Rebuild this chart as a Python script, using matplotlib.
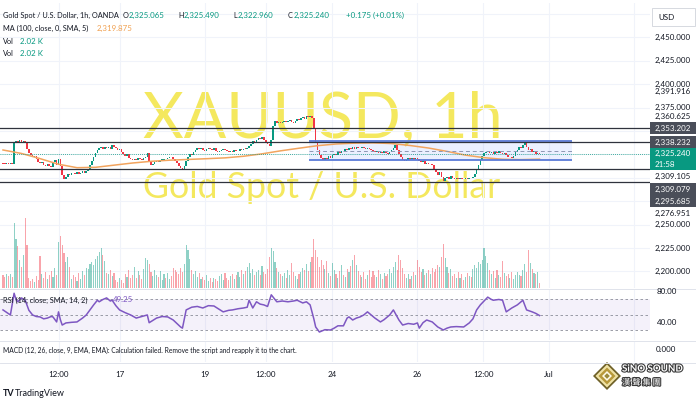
import matplotlib.pyplot as plt
import matplotlib.patheffects as pe
from matplotlib.patches import Rectangle, Polygon
from matplotlib.transforms import blended_transform_factory
import numpy as np

plt.rcParams['font.family'] = ['Lato', 'DejaVu Sans']

# hourly closes (XAUUSD 1h, OANDA)
closes = [
    2315.2, 2314.6, 2315.8, 2314.9, 2315.4, 2314.8,
    2337.5,
    2339.2, 2336.8, 2340.1, 2338.5, 2339.6, 2337.9,
    2331.0, 2326.4, 2324.8, 2322.1, 2323.5, 2319.6,
    2317.2, 2315.5, 2316.8, 2313.9, 2312.4, 2314.6, 2313.1, 2311.8,
    2316.5, 2318.9, 2314.2, 2319.8, 2312.3,
    2303.5, 2298.4, 2301.2,
    2304.1, 2303.2, 2305.3, 2304.6, 2303.8, 2305.9, 2304.4, 2305.1, 2306.8, 2305.5, 2307.2,
    2309.8, 2313.5, 2318.2, 2322.6, 2326.3, 2329.8, 2331.4,
    2332.6, 2330.5, 2333.2, 2331.7, 2332.9, 2330.8, 2334.6,
    2333.1, 2331.5, 2329.2, 2330.4, 2327.1, 2325.3, 2323.8, 2324.9, 2321.6, 2319.8, 2318.5,
    2320.6, 2319.4, 2321.3, 2320.1, 2319.0, 2320.8, 2321.7, 2326.0,
    2316.8, 2313.9, 2315.2,
    2316.6, 2317.9, 2317.2, 2318.8, 2319.5, 2320.3, 2319.6, 2321.2, 2322.5, 2321.8,
    2320.4, 2317.9, 2315.3, 2312.6, 2310.4, 2308.6,
    2312.8, 2317.5, 2321.9, 2325.6, 2324.3, 2327.9, 2330.2, 2331.5,
    2330.6, 2331.8, 2330.2, 2329.1, 2330.5, 2331.9, 2330.7, 2330.1, 2331.3, 2328.6, 2327.4, 2328.9, 2329.5, 2330.4,
    2329.3, 2328.1, 2327.2, 2328.6, 2327.9, 2329.4, 2328.3, 2329.0, 2330.6, 2329.8, 2331.2, 2330.5, 2332.1,
    2333.8, 2336.2, 2338.9, 2337.4, 2340.6, 2342.8, 2341.5, 2343.6, 2340.2, 2337.5, 2336.1,
    2334.2,
    2340.5, 2355.6, 2360.3,
    2358.9, 2359.6, 2358.2, 2359.8, 2360.5, 2359.1, 2360.7, 2361.5, 2359.8, 2358.6, 2361.2, 2362.4, 2361.8,
    2363.5, 2364.8, 2363.2, 2365.9, 2364.6, 2366.3, 2363.8,
    2352.4, 2337.6,
    2329.5, 2324.8, 2321.1, 2319.3,
    2321.5, 2320.4, 2322.8, 2321.0, 2323.9,
    2325.8, 2324.6, 2327.9, 2326.5, 2329.1, 2328.2, 2330.4, 2329.6,
    2331.6, 2330.8, 2332.5, 2331.2, 2333.4, 2332.1, 2331.5, 2333.0, 2332.3, 2330.9, 2331.8, 2330.5,
    2329.4, 2328.1, 2327.3, 2328.6, 2326.9, 2327.8, 2326.2, 2328.4, 2327.0, 2325.9, 2327.5, 2329.2, 2331.8,
    2335.0,
    2330.2, 2325.8, 2322.1, 2319.4, 2318.0, 2319.5,
    2320.7, 2319.6, 2321.2, 2320.3, 2321.5, 2320.0, 2318.4,
    2316.6, 2317.5, 2315.2, 2316.1, 2314.3, 2315.0, 2313.6,
    2309.2, 2306.5, 2303.1, 2306.4, 2300.8, 2296.3,
    2299.5, 2300.8, 2299.2, 2301.4, 2300.1, 2298.6, 2299.8, 2298.9, 2300.3, 2299.1, 2298.4, 2299.6, 2298.8, 2300.2, 2299.4, 2300.9,
    2304.5, 2309.6, 2314.2, 2318.5, 2322.8, 2326.1, 2327.6, 2328.9,
    2326.8, 2327.9, 2325.6, 2327.2, 2326.4, 2328.1, 2327.0, 2325.8, 2326.9, 2324.5,
    2321.8, 2322.6, 2320.9, 2323.4,
    2327.2, 2330.1, 2332.6, 2331.4, 2334.8, 2337.0,
    2333.2, 2329.5, 2331.0, 2327.4, 2328.6, 2325.8, 2326.9, 2325.24,
]
first_open = 2315.6

# volume in thousands
volumes = [
    5.2, 4.6, 5.8, 4.9, 5.5, 4.3,
    26.0, 19.5, 16.8, 11.2, 8.6, 13.4, 28.0, 17.2,
    4.1, 2.8, 3.6, 2.4, 4.8, 3.2,
    12.8, 5.6, 4.2, 6.4, 3.8, 5.2,
    6.8, 4.6, 7.9, 5.4,
    18.6, 20.8, 17.4,
    14.2, 10.5, 12.6, 8.4,
    3.6, 5.2, 4.4, 2.9, 6.1, 3.8,
    6.8, 5.4, 8.2, 7.6, 9.8, 10.4,
    9.2, 11.6, 12.8,
    14.6, 16.2, 13.4, 10.8,
    6.2, 5.6, 7.4, 4.8, 5.9,
    3.2, 2.6, 4.1, 3.4, 2.2, 5.8, 4.6, 7.2, 3.9,
    5.4, 8.6, 4.2, 6.8, 5.1, 3.7,
    7.6, 12.2, 11.4,
    9.6, 6.3, 4.8, 7.1, 5.2, 4.4, 6.7,
    3.4, 5.8, 4.1, 6.2, 3.6, 4.9,
    8.2, 7.4, 6.6, 5.8, 7.9, 6.4,
    9.8, 17.2, 15.4, 11.6,
    7.2, 5.6, 6.8, 4.3, 5.9, 3.8,
    4.6, 3.2, 5.4, 2.8, 3.9, 2.4, 4.2, 3.5, 2.9, 4.8,
    5.6, 3.4, 6.2, 4.1, 3.3, 4.7, 5.5, 3.6,
    5.2, 6.4, 4.6, 7.1, 5.8, 6.9, 8.4, 10.2,
    6.2, 7.8, 5.4, 6.6, 7.3, 5.1, 8.8, 6.4, 5.7, 7.6,
    12.4, 16.2, 14.8,
    10.6, 8.2, 6.4, 5.6, 4.8, 6.2,
    4.1, 7.4, 5.2, 10.2, 6.6, 4.9, 3.6, 5.8,
    6.4, 8.2, 7.1, 9.6, 6.8, 10.4, 12.6,
    19.6, 15.2,
    12.4, 8.6, 11.2, 9.4, 7.6, 10.8,
    6.2, 4.8, 10.0, 7.4,
    5.6, 4.2, 6.8, 9.2, 5.4, 4.6,
    7.6, 6.4, 8.8, 11.2, 13.2, 9.4, 6.8,
    5.2, 4.4, 6.6, 3.8, 5.4, 7.2, 4.6,
    6.8, 5.2, 4.6, 7.4, 5.8, 3.6, 6.2, 4.8,
    5.6, 7.8, 6.2, 8.6, 10.4, 7.2,
    13.2, 11.4, 8.2, 5.6,
    4.2, 5.8, 3.6, 4.8, 6.4, 5.2,
    11.2, 8.4, 6.6, 7.8, 5.4, 6.2,
    7.4, 5.8, 8.2, 6.6, 7.8, 9.4, 8.6,
    12.4, 17.6, 12.0,
    8.4, 6.2, 7.6, 4.8, 5.6, 3.9, 6.4,
    4.2, 5.8, 3.4, 4.6, 6.2, 5.0, 4.4,
    7.6, 9.4, 8.2, 10.6, 9.8,
    11.4, 16.0, 12.8, 10.2, 7.4,
    5.6, 6.8, 4.2, 7.2, 5.4, 4.6,
    10.8, 6.2, 4.8,
    5.6, 4.2, 6.4, 3.8, 5.2, 6.6, 5.4,
    4.8, 7.2, 9.6, 6.4,
    15.2, 10.0, 7.6, 6.2,
    5.8, 6.6, 2.02,
]

# MA(100) read every 10 bars
ma_bars = [0, 10, 20, 30, 40, 50, 60, 70, 80, 90, 100, 110, 120, 130, 140,
           150, 160, 170, 180, 190, 200, 210, 220, 230, 240, 250, 260, 270, 280, 290]
ma_vals = [2329.7, 2326.0, 2320.5, 2314.5, 2310.8, 2311.2, 2313.5, 2315.8, 2317.6, 2318.8,
           2319.6, 2320.4, 2321.3, 2323.0, 2325.6, 2328.8, 2331.6, 2334.3, 2336.1, 2337.0,
           2337.3, 2336.6, 2334.5, 2331.8, 2328.2, 2324.2, 2321.5, 2319.8, 2319.4, 2319.875]

# RSI(14)
rsi_points = [
    (0, 56.5), (4, 50), (6, 78), (7, 70), (8, 67), (10, 72), (12, 69), (14, 56), (16, 50),
    (18, 48), (20, 47.5), (22, 45), (24, 46), (26, 48), (27, 47.5), (29, 41), (30, 54),
    (31, 44), (32, 37), (34, 39.7), (37, 40.5), (40, 41), (43, 46), (45, 50), (47, 56.5),
    (49, 63), (51, 69), (52, 67), (54, 70), (56, 72), (58, 68), (59, 69), (61, 62),
    (63, 56.5), (66, 53), (69, 50), (72, 46), (75, 48), (78, 50), (79, 40), (81, 43),
    (83, 46), (86, 48), (89, 47.5), (92, 43.5), (94, 39), (96, 34.5), (97, 33), (99, 56.5),
    (102, 60), (105, 61), (108, 59), (111, 62), (114, 61.6), (117, 57), (119, 54), (122, 56),
    (124, 56.5), (127, 58), (130, 59), (132, 60), (133, 69), (135, 59), (137, 67), (139, 64),
    (141, 63), (143, 61), (145, 76), (148, 67), (151, 68), (154, 67), (157, 68), (159, 69),
    (162, 65.5), (164, 67), (166, 63), (168, 45), (169, 34.5), (171, 28), (174, 31),
    (177, 30.6), (179, 33), (181, 36), (184, 36), (186, 46), (187, 47.5), (189, 43.5),
    (191, 46), (193, 47.5), (195, 50), (197, 54), (199, 50), (201, 46), (204, 41), (206, 44),
    (209, 50), (211, 56.5), (214, 43.5), (216, 37), (219, 39), (222, 38), (224, 39.7),
    (225, 33), (227, 40), (229, 43.5), (232, 41), (235, 34.5), (238, 30.6), (240, 33),
    (242, 34.5), (245, 35), (249, 34.5), (252, 39.7), (254, 45), (256, 56.5), (258, 63),
    (260, 68), (262, 73), (264, 70), (265, 69), (268, 70), (270, 69), (272, 54), (275, 59),
    (278, 63), (281, 69), (283, 56.5), (286, 54), (288, 52), (290, 49.25),
]

levels = [2353.202, 2338.232, 2309.079, 2295.685]
last_price = 2325.24
rect_bars = (165.5, 307.5)
rect_prices = (2318.6, 2339.4)

tick_bars = [30, 63, 109, 142, 178, 224, 259.5, 295]
tick_labels = ['12:00', '17', '19', '12:00', '24', '26', '12:00', 'Jul']
grid_bars = tick_bars + [341]
price_grid = [2200, 2225, 2250, 2275, 2300, 2325, 2350, 2375, 2400, 2425, 2450, 2475]
price_tick_labels = [2450, 2425, 2400, 2375, 2250, 2225, 2200]

UP, DOWN = '#089981', '#f23645'
DARK = '#131722'
GRID = '#f0f3fa'
W, H = 696, 399
PLOT_W = 650

fig = plt.figure(figsize=(W / 100, H / 100), dpi=100)


def frame(top, bottom):
    return [0, 1 - bottom / H, PLOT_W / W, (bottom - top) / H]


bg = fig.add_axes([0, 0, 1, 1], zorder=0)
ax = fig.add_axes(frame(3, 288), zorder=1)
ax_vol = fig.add_axes(frame(3, 288), zorder=2, sharex=ax)
ax_rsi = fig.add_axes(frame(289, 340), zorder=1, sharex=ax)
ax_macd = fig.add_axes(frame(341, 362), zorder=1, sharex=ax)
top = fig.add_axes([0, 0, 1, 1], zorder=10)
for a in (bg, top):
    a.set_xlim(0, W)
    a.set_ylim(H, 0)
    a.axis('off')
top.patch.set_visible(False)

for a in (ax, ax_vol, ax_rsi, ax_macd):
    a.patch.set_visible(False)
    for s in a.spines.values():
        s.set_visible(False)
    a.tick_params(left=False, labelleft=False, bottom=False, labelbottom=False)
    a.set_xlim(-1.62, 349.7)
ax_vol.set_yticks([])

# watermark, fitted to the reference width
wm_color = '#f4e85e'
wm1 = bg.text(143, 137, 'XAUUSD, 1h', fontsize=40, color=wm_color, va='baseline')
wm2 = bg.text(143, 198, 'Gold Spot / U.S. Dollar', fontsize=20, color=wm_color, va='baseline')
fig.canvas.draw()
for t, target in ((wm1, 360), (wm2, 357)):
    t.set_fontsize(t.get_fontsize() * target / t.get_window_extent().width)

# grids
for a in (ax, ax_rsi, ax_macd):
    for b in grid_bars:
        a.axvline(b, color=GRID, lw=0.8, zorder=0)
for p in price_grid:
    ax.axhline(p, color=GRID, lw=0.8, zorder=0)

# price pane
x = np.arange(len(closes))
c = np.array(closes)
o = np.r_[first_open, c[:-1]]
up = c >= o
colors = np.where(up, UP, DOWN)
ax.set_ylim(2182.3, 2486.7)
ax.fill_between(rect_bars, rect_prices[0], rect_prices[1], color='#2962ff', alpha=0.09, lw=0, zorder=1)
ax.bar(x, np.maximum(np.abs(c - o), 0.8), bottom=np.minimum(o, c), width=0.85,
       color=colors, lw=0, zorder=3)
ax.plot(ma_bars, ma_vals, color='#f2a45e', lw=1.1, zorder=4)
ax.hlines(rect_prices, *rect_bars, color='#5b7bd8', lw=1.3, zorder=5)
ax.hlines(np.mean(rect_prices), *rect_bars, color='#8e97b3', lw=0.7, ls=(0, (4, 3)), zorder=5)
for lv in levels:
    ax.axhline(lv, color='#2f333d', lw=0.9, zorder=6)
ax.axhline(last_price, color=UP, lw=0.6, ls=(0, (1, 1.5)), zorder=6)

# volume overlay
ax_vol.set_ylim(0, 114)
ax_vol.bar(x, volumes, width=0.6, color=colors, alpha=0.45, lw=0)

# RSI pane
rb, rv = zip(*rsi_points)
ax_rsi.set_ylim(17.7, 83.5)
ax_rsi.axhspan(30, 70, color='#7e57c2', alpha=0.08, lw=0)
for lv in (70, 50, 30):
    ax_rsi.axhline(lv, color='#8a8d98', lw=0.6, ls=(0, (3, 3)))
ax_rsi.plot(rb, rv, color='#7e57c2', lw=1.1)

# time axis
ax_macd.set_xticks(tick_bars)
ax_macd.set_xticklabels(tick_labels)
ax_macd.tick_params(labelbottom=True, labelsize=5.8, labelcolor=DARK, pad=3)

# pane separators
for yy in (288.5, 340.5, 362.5):
    top.plot([0, W], [yy, yy], color='#e0e3eb', lw=0.7)

# price scale labels
FS = 5.8
tr_main = blended_transform_factory(top.transData, ax.transData)
tr_rsi = blended_transform_factory(top.transData, ax_rsi.transData)
for p in price_tick_labels:
    top.text(655, p, f'{p:,.3f}', transform=tr_main, fontsize=FS, color=DARK, va='center')
top.text(655, 2391.916, '2,391.916', transform=tr_main, fontsize=FS, color=DARK, va='center')
for r in (80, 40):
    top.text(657, r, f'{r:.2f}', transform=tr_rsi, fontsize=FS, color=DARK, va='center')
top.text(656, 350, '0.000', fontsize=FS, color=DARK, va='center')

plain_labels = [('2,360.625', 116.5), ('2,309.105', 176.5), ('2,276.951', 213.5)]
for s, yy in plain_labels:
    top.text(655, yy, s, fontsize=FS, color=DARK, va='center')
box_labels = [('2,353.202', 128), ('2,338.232', 142), ('2,309.079', 189), ('2,295.685', 201)]
for s, yy in box_labels:
    top.add_patch(Rectangle((650, yy - 6), 46, 12, color='#4a4e59', lw=0))
    top.text(655, yy, s, fontsize=FS, color='white', va='center')
top.add_patch(Rectangle((650, 147.5), 46, 22.5, color=UP, lw=0))
top.text(655, 153.5, '2,325.240', fontsize=FS, color='white', va='center')
top.text(655, 164.5, '21:58', fontsize=FS, color='white', va='center')

top.add_patch(Rectangle((652, 8), 43, 18, fc='white', ec='#d6d9e0', lw=0.7))
top.text(658, 17.5, 'USD', fontsize=FS, color=DARK, va='center')

# legend lines: (text, colour, x start)
legend_rows = [
    (15, [('Gold Spot / U.S. Dollar, 1h, OANDA', DARK, 3),
          ('O', DARK, 123), ('2,325.065', UP, 129),
          ('H', DARK, 178), ('2,325.490', UP, 184),
          ('L', DARK, 233), ('2,322.960', UP, 238),
          ('C', DARK, 288), ('2,325.240', UP, 294),
          ('+0.175 (+0.01%)', UP, 346)]),
    (28, [('MA (100, close, 0, SMA, 5)', DARK, 3), ('2,319.875', '#f0a050', 97)]),
    (41, [('Vol', DARK, 3), ('2.02 K', UP, 20)]),
    (53, [('Vol', DARK, 3), ('2.02 K', UP, 20)]),
    (300, [('RSI (14, close, SMA, 14, 2)', DARK, 3), ('49.25', '#7e57c2', 113)]),
]
for yy, parts in legend_rows:
    for s, col, xx in parts:
        size = 5.3 if col == DARK else 5.7
        top.text(xx, yy, s, fontsize=size, color=col, va='center')
top.text(3, 350, 'MACD (12, 26, close, 9, EMA, EMA): Calculation failed. '
         'Remove the script and reapply it to the chart.', fontsize=4.8, color=DARK, va='center')

# footer
top.text(3, 393.5, 'TV', fontsize=6.5, fontweight='bold', color=DARK, va='center')
top.text(15, 393.5, 'TradingView', fontsize=6.5, color=DARK, va='center')

cx, cy = 607, 376
for r, col in ((14, '#6f6128'), (11.5, '#efe2a4'), (8.5, '#b8993a'), (5, '#fffbe8'), (2.8, '#9c8a3a')):
    top.add_patch(Polygon([(cx, cy - r), (cx + r, cy), (cx, cy + r), (cx - r, cy)], fc=col, lw=0))
stroke = [pe.withStroke(linewidth=1.6, foreground='#3b3b3b')]
top.text(622, 369, 'SiNO SOUND', fontsize=7, fontweight='bold', color='white',
         va='center', path_effects=stroke)
top.text(622, 382.5, '漢 聲 集 團', fontsize=6, color='white', va='center',
         family=['Noto Sans CJK TC', 'DejaVu Sans'], path_effects=stroke)

fig.savefig('out.png', dpi=100, facecolor='white')
